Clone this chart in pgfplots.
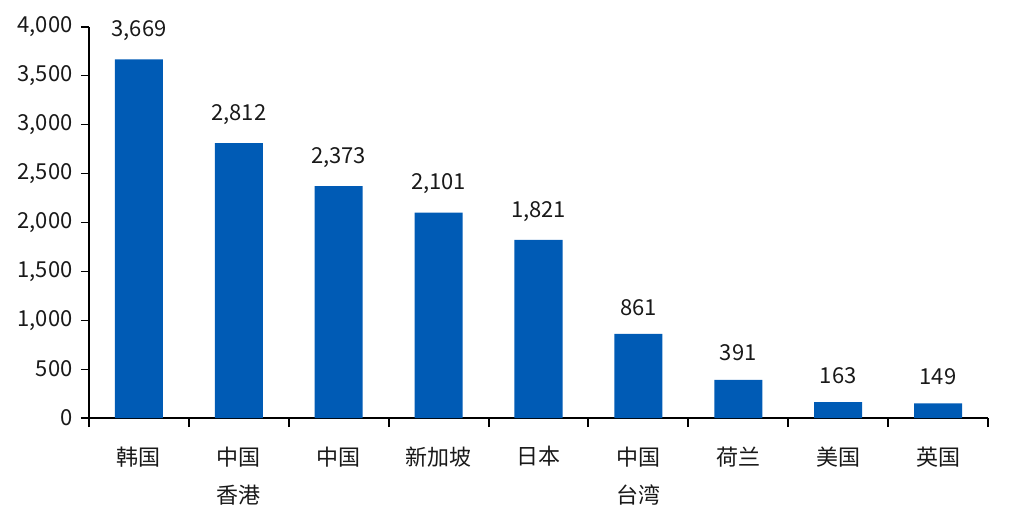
\documentclass[border=0pt]{standalone}
\usepackage{fontspec}
\setmainfont{Noto Sans CJK SC}
\usepackage{pgfplots}
\pgfplotsset{compat=1.18}
\definecolor{barblue}{RGB}{0,91,181}
\begin{document}
\begin{tikzpicture}
\begin{axis}[
  scale only axis,
  width=899bp, height=391bp,
  at={(0,0)}, anchor=south west,
  ymin=0, ymax=4000,
  xmin=-0.5, xmax=8.5,
  ytick={0,500,...,4000},
  xtick={0,...,8},
  minor xtick={-0.5,0.5,...,8.5},
  xticklabels={{韩国},{中国\\香港},{中国},{新加坡},{日本},{中国\\台湾},{荷兰},{美国},{英国}},
  axis x line*=bottom,
  axis y line*=left,
  x axis line style={line width=2.2bp, -},
  y axis line style={line width=1.2bp, -},
  tick align=outside,
  major tick length=8bp,
  minor tick length=9bp,
  major x tick style={draw=none},
  ytick style={line width=1.2bp, black},
  minor x tick style={line width=2bp, black},
  scaled y ticks=false,
  /pgf/number format/.cd, assume math mode=true, 1000 sep={,}, fixed, precision=0,
  /pgfplots/.cd,
  tick label style={font=\fontsize{22bp}{38bp}\selectfont, text=black!90},
  xticklabel style={align=center, yshift=-17bp},
  yticklabel style={xshift=-5bp},
  ybar,
  bar width=48bp,
  nodes near coords,
  nodes near coords style={font=\fontsize{22bp}{26bp}\selectfont, text=black!90, yshift=15bp},
]
\addplot[fill=barblue, draw=none] coordinates {
(0,3669) (1,2812) (2,2373) (3,2101) (4,1821) (5,861) (6,391) (7,163) (8,149)};
\end{axis}
\pgfresetboundingbox
\path (-89bp,-110bp) rectangle (922bp,418bp);
\end{tikzpicture}
\end{document}
